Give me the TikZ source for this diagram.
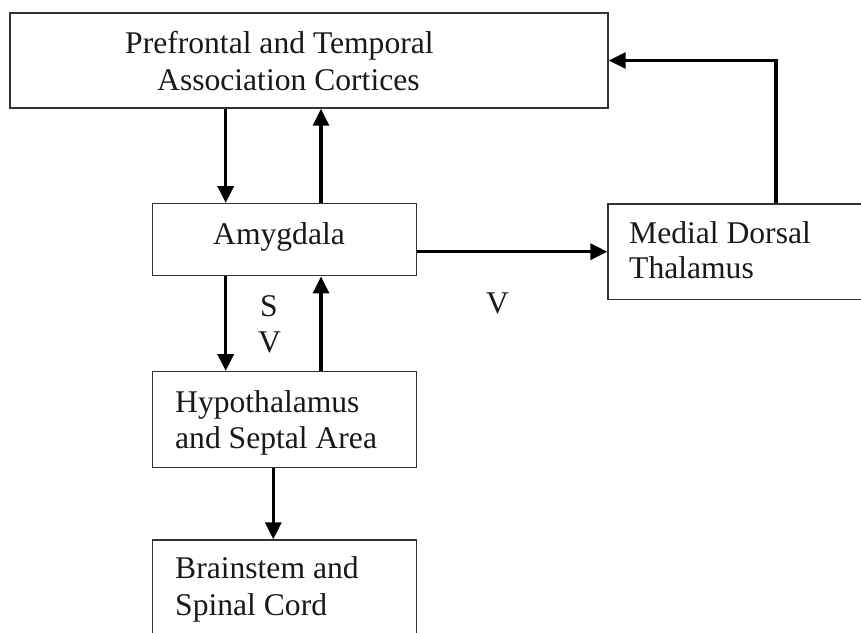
\documentclass[tikz,border=0pt]{standalone}
\usepackage{fontspec}
\setmainfont{Liberation Serif}
\usetikzlibrary{arrows.meta}
\begin{document}
\begin{tikzpicture}[x=1pt,y=-1pt,
  box/.style={draw=black!80, line width=1.4pt, minimum width=#1, inner sep=0pt, rectangle},
  txt/.style={anchor=base west, inner sep=0pt, text=black!90, font=\fontsize{31.6}{36}\selectfont},
  arr/.style={draw=black, line width=3.2pt, -{Triangle[length=17pt,width=16pt]}}]
\clip (0,0) rectangle (861,632);
\fill[white] (0,0) rectangle (861,632);
% boxes
\node[box=598pt, minimum height=95pt] (top) at (309,60.5) {};
\node[box=264pt, minimum height=72pt] (amy) at (284.7,239.7) {};
\node[box=264pt, minimum height=95.6pt] (hyp) at (284.7,419.5) {};
\node[box=264pt, minimum height=120pt] (brain) at (284.7,600) {};
\node[box=292pt, minimum height=95.3pt] (thal) at (754,251.7) {};
% texts
\node[txt] (t1) at (125,53) {Prefrontal and Temporal};
\node[txt] (t2) at (157,90) {Association Cortices};
\node[txt] (t3) at (213,244) {Amygdala};
\node[txt] (t4) at (629,243) {Medial Dorsal};
\node[txt] (t5) at (629,278) {Thalamus};
\node[txt] (t6) at (175,412) {Hypothalamus};
\node[txt] (t7) at (175,448) {and Septal Area};
\node[txt] (t8) at (175,578) {Brainstem and};
\node[txt] (t9) at (175,615) {Spinal Cord};
\node[txt] (s1) at (260,316) {S};
\node[txt] (s2) at (258,352) {V};
\node[txt] (s3) at (486,313) {V};
% guide coordinates
\coordinate (xa) at (225.7,0);
\coordinate (xb) at (321,0);
\coordinate (xc) at (273.3,0);
\coordinate (xd) at (776,0);
\coordinate (ya) at (0,251.7);
% connectors
\draw[arr] (xa |- top.south) -- (xa |- amy.north);
\draw[arr] (xb |- amy.north) -- (xb |- top.south);
\draw[arr] (xa |- amy.south) -- (xa |- hyp.north);
\draw[arr] (xb |- hyp.north) -- (xb |- amy.south);
\draw[arr] (xc |- hyp.south) -- (xc |- brain.north);
\draw[arr] (amy.east |- ya) -- (thal.west |- ya);
\draw[arr] (xd |- thal.north) |- (top.east);
\end{tikzpicture}
\end{document}
